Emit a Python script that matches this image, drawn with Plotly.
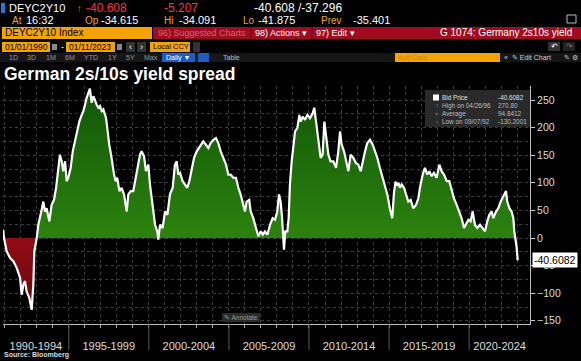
import numpy as np
import plotly.graph_objects as go

# ---------------- data ----------------
years = [
    1990.90, 1990.96, 1991.12, 1991.33, 1991.54, 1991.75, 1991.96, 1992.06, 1992.17, 1992.27,
    1992.37, 1992.54, 1992.685, 1992.79, 1992.85, 1993.00, 1993.10, 1993.21, 1993.31, 1993.41,
    1993.52, 1993.62, 1993.79, 1993.93, 1994.08, 1994.21, 1994.35, 1994.45, 1994.56, 1994.66,
    1994.77, 1994.87, 1994.97, 1995.12, 1995.25, 1995.39, 1995.54, 1995.66, 1995.81, 1995.91,
    1996.02, 1996.12, 1996.32, 1996.43, 1996.54, 1996.64, 1996.74, 1996.85, 1996.95, 1997.06,
    1997.16, 1997.33, 1997.41, 1997.53, 1997.64, 1997.74, 1997.83, 1997.93, 1998.03, 1998.16,
    1998.30, 1998.45, 1998.62, 1998.72, 1998.87, 1999.03, 1999.24, 1999.45, 1999.55, 1999.70,
    1999.82, 1999.97, 2000.07, 2000.24, 2000.39, 2000.53, 2000.59, 2000.70, 2000.86, 2001.01,
    2001.16, 2001.32, 2001.49, 2001.63, 2001.74, 2001.84, 2001.95, 2002.11, 2002.26, 2002.40,
    2002.53, 2002.67, 2002.82, 2002.99, 2003.19, 2003.40, 2003.57, 2003.72, 2003.86, 2004.03,
    2004.19, 2004.34, 2004.49, 2004.65, 2004.82, 2004.96, 2005.11, 2005.28, 2005.44, 2005.59,
    2005.73, 2005.90, 2006.00, 2006.11, 2006.27, 2006.36, 2006.52, 2006.69, 2006.84, 2006.98,
    2007.11, 2007.25, 2007.40, 2007.57, 2007.73, 2007.88, 2008.02, 2008.13, 2008.23, 2008.32,
    2008.40, 2008.44, 2008.52, 2008.65, 2008.73, 2008.81, 2008.92, 2009.02, 2009.13, 2009.27,
    2009.40, 2009.48, 2009.61, 2009.75, 2009.90, 2010.06, 2010.23, 2010.33, 2010.44, 2010.58,
    2010.73, 2010.85, 2010.96, 2011.06, 2011.21, 2011.35, 2011.52, 2011.69, 2011.83, 2011.94,
    2012.04, 2012.19, 2012.31, 2012.46, 2012.60, 2012.77, 2012.93, 2013.08, 2013.23, 2013.35,
    2013.50, 2013.64, 2013.81, 2013.98, 2014.12, 2014.27, 2014.43, 2014.60, 2014.75, 2014.89,
    2015.06, 2015.20, 2015.30, 2015.40, 2015.50, 2015.58, 2015.68, 2015.79, 2015.93, 2016.06,
    2016.20, 2016.35, 2016.51, 2016.68, 2016.83, 2016.93, 2017.10, 2017.24, 2017.39, 2017.51,
    2017.66, 2017.80, 2017.97, 2018.14, 2018.28, 2018.43, 2018.60, 2018.76, 2018.91, 2019.05,
    2019.22, 2019.39, 2019.53, 2019.68, 2019.80, 2019.95, 2020.09, 2020.22, 2020.36, 2020.51,
    2020.68, 2020.84, 2020.99, 2021.13, 2021.26, 2021.41, 2021.51, 2021.68, 2021.82, 2021.97,
    2022.09, 2022.18, 2022.30, 2022.38, 2022.51, 2022.65, 2022.76, 2022.82, 2022.88, 2022.97,
    2023.03,
]
spread = [
    15, 0, -24, -36, -42, -54, -72, -103, -84, -78,
    -97, -109, -130.2, -84, -24, 0, 24, 36, 51, 66,
    48, 54, 30, 60, 69, 91, 133, 151, 139, 121,
    139, 103, 109, 127, 157, 175, 193, 211, 223, 230,
    242, 254, 270.8, 245, 257, 248, 242, 236, 239, 230,
    233, 217, 193, 169, 151, 127, 115, 103, 109, 85,
    91, 79, 48, 79, 85, 85, 121, 151, 157, 148,
    121, 133, 97, 60, 24, 12, -3, 24, 18, 48,
    42, 79, 91, 133, 139, 115, 118, 103, 97, 91,
    103, 127, 145, 157, 166, 175, 169, 163, 172, 178,
    181, 172, 157, 145, 133, 115, 115, 109, 109, 91,
    79, 60, 48, 66, 69, 48, 36, 18, 3, 12,
    6, 12, 6, 24, 36, 33, 48, 79, 66, 36,
    6, -21, 12, 12, 36, 97, 139, 169, 193, 199,
    223, 211, 220, 214, 223, 217, 226, 236, 211, 187,
    145, 151, 211, 187, 151, 139, 139, 127, 157, 193,
    169, 157, 139, 121, 151, 145, 136, 133, 121, 139,
    157, 172, 178, 169, 157, 145, 127, 109, 97, 79,
    52, 36, 80, 102, 97, 100, 91, 97, 91, 79,
    66, 69, 54, 60, 72, 91, 115, 127, 115, 121,
    112, 118, 109, 133, 121, 115, 103, 103, 85, 72,
    60, 48, 36, 18, 24, 33, 30, 48, 24, 18,
    24, 18, 12, 30, 42, 48, 36, 48, 54, 66,
    72, 78, 85, 66, 54, 48, 36, 12, 0, -18,
    -40.6082,
]
period_labels = ["1990-1994", "1995-1999", "2000-2004", "2005-2009",
                 "2010-2014", "2015-2019", "2020-2024"]
period_starts = [1990, 1995, 2000, 2005, 2010, 2015, 2020]
period_len = 5
stat_labels = ["Bid Price", "High on 04/26/96", "Average", "Low on 09/07/92"]
stat_values = ["-40.6082", "270.80", "94.8412", "-130.2001"]
x_range = [1990.895, 2023.80]
y_range = [-155.8, 275.4]

# ---------------- geometry helpers ----------------
W, H = 581, 361
L, R, T, B = 3, 51, 86, 37
PW, PH = W - L - R, H - T - B


def px(x):
    return (x - L) / PW


def py(y):
    return (H - B - y) / PH


FONT = "Liberation Sans"
ORANGE = "#f5a300"
AMBER_TXT = "#f0a030"
REDBAR = "#a00b20"

v = np.array(spread, dtype=float)
pos = np.clip(v, 0, None)
neg = np.clip(v, None, 0)

fig = go.Figure()
fig.add_trace(go.Scatter(
    x=years, y=pos, mode="none", fill="tozeroy",
    fillgradient=dict(type="vertical", start=0, stop=270,
                      colorscale=[[0, "rgb(44,130,14)"], [1, "rgb(18,86,8)"]]),
    hoverinfo="skip", showlegend=False))
fig.add_trace(go.Scatter(
    x=years, y=neg, mode="none", fill="tozeroy",
    fillgradient=dict(type="vertical", start=-130, stop=0,
                      colorscale=[[0, "rgb(105,6,14)"], [1, "rgb(145,12,22)"]]),
    hoverinfo="skip", showlegend=False))
fig.add_trace(go.Scatter(
    x=years, y=spread, mode="lines", line=dict(color="white", width=2.2),
    hoverinfo="skip", showlegend=False))

# x tick label positions: centre of the visible part of each 5-year block
tickvals = []
for s in period_starts:
    a = max(s, x_range[0])
    b = min(s + period_len, x_range[1])
    tickvals.append((a + b) / 2)

shapes = []
annotations = []


def rect(x0, y0, x1, y1, fill, line=None):
    shapes.append(dict(type="rect", xref="paper", yref="paper",
                       x0=px(x0), x1=px(x1), y0=py(y1), y1=py(y0),
                       fillcolor=fill, line=dict(width=0 if line is None else 1,
                                                 color=line or fill),
                       layer="above"))


def text(x, y, s, size=11, color="white", anchor="left", bold=False, family=FONT):
    annotations.append(dict(xref="paper", yref="paper", x=px(x), y=py(y),
                            text=f"<b>{s}</b>" if bold else s, showarrow=False,
                            xanchor=anchor, yanchor="middle", borderpad=0,
                            font=dict(size=size, color=color, family=family)))


# separators under the x axis
for s in period_starts[1:]:
    shapes.append(dict(type="line", xref="x", yref="paper", x0=s, x1=s,
                       y0=py(350), y1=0, line=dict(color="#5a5a5a", width=1)))

# ---------- header ----------
rect(1, 3, 5, 13, "#1e7be0")
text(8, 8, "DEYC2Y10", 11, "white")
text(76, 8, "↑", 10, "#2fd04a")
text(85, 8, "-40.608", 12, "#ff3048")
text(163, 8, "-5.207", 12, "#ff3048")
text(253, 8, "-40.608 /-37.296", 12, "white")

text(11, 20, "At", 10, AMBER_TXT)
text(25, 20, "16:32", 11, "white")
text(84, 20, "Op", 10, AMBER_TXT)
text(100, 20, "-34.615", 11, "white")
text(163, 20, "Hi", 10, AMBER_TXT)
text(178, 20, "-34.091", 11, "white")
text(242, 20, "Lo", 10, AMBER_TXT)
text(257, 20, "-41.875", 11, "white")
text(320, 20, "Prev", 10, AMBER_TXT)
text(352, 20, "-35.401", 11, "white")
rect(567, 15, 576, 23, "rgba(0,0,0,0)", "#bbbbbb")

rect(2, 27, 152, 39, ORANGE)
text(4, 33, "DEYC2Y10 Index", 10, "black")
rect(153, 27, 581, 39, REDBAR)
text(157, 33, "96) Suggested Charts", 9, "#d06878")
shapes.append(dict(type="line", xref="paper", yref="paper", x0=px(251), x1=px(251),
                   y0=py(39), y1=py(27), line=dict(color="#600010", width=1)))
text(254, 33, "98) Actions ▾", 9, "white")
shapes.append(dict(type="line", xref="paper", yref="paper", x0=px(312), x1=px(312),
                   y0=py(39), y1=py(27), line=dict(color="#600010", width=1)))
text(315, 33, "97) Edit ▾", 9, "white")
text(573, 33, "G 1074: Germany 2s10s yield", 10, "white", anchor="right")

rect(2, 42, 50, 52, ORANGE)
text(4, 47, "01/01/1990", 8.5, "black")
rect(52, 44, 57, 50, "#8a8a8a")
text(60, 47, "-", 9, "white")
rect(66, 42, 115, 52, ORANGE)
text(68, 47, "01/11/2023", 8.5, "black")
rect(117, 44, 122, 50, "#8a8a8a")
rect(126, 42, 135, 52, "#333333")
text(130.5, 47, "‹", 9, "white", anchor="center")
rect(137, 42, 146, 52, "#333333")
text(141.5, 47, "›", 9, "white", anchor="center")
rect(150, 42, 190, 52, ORANGE)
text(152, 47, "Local CCY", 7.5, "black")
rect(193, 42, 200, 52, "#333333")
rect(548, 42, 560, 51, "#333333")
text(554, 46.5, "↶", 8, "white", anchor="center")
rect(563, 42, 575, 51, "#222222")
text(569, 46.5, "↷", 8, "#777777", anchor="center")

rect(0, 53, 581, 62, "#161616")
for lbl, xx in [("1D", 8), ("3D", 26), ("1M", 45), ("6M", 64), ("YTD", 83),
                ("1Y", 107), ("5Y", 125), ("Max", 143)]:
    text(xx, 57.5, lbl, 7, "#9a9a9a")
rect(162, 53, 195, 62, "#1d5fc0")
text(165, 57.5, "Daily ▼", 7, "white")
rect(198, 53, 209, 62, "#1d5fc0")
text(222, 57.5, "Table", 7, "#bbbbbb")
rect(395, 53, 500, 62, ORANGE)
text(397, 57.5, "Add Data", 7, "#c88a20")
text(503, 57.5, "«  ✎ Edit Chart", 7, "#cccccc")
text(563, 57.5, "✎ ⚙", 7, "#cccccc")

# title
text(3, 74, "German 2s/10s yield spread", 17.5, "white", bold=True)

# stats box
rect(425, 90, 530, 127, "rgba(48,48,48,0.85)")
rect(433, 94.5, 439, 100.5, "white")
row_y = [97.5, 105.5, 113.5, 121]
for i, (lab, val) in enumerate(zip(stat_labels, stat_values)):
    text(441, row_y[i], lab, 6.4, "#e0e0e0" if i == 0 else "#bdbdbd")
    text(497, row_y[i], val, 6.4, "#e0e0e0" if i == 0 else "#bdbdbd")
    if i > 0:
        text(434, row_y[i], ["⊤", "=", "⊥"][i - 1], 5, "#888888")

# annotate button
rect(222, 313, 260, 322, "#2b2b2b")
text(241, 317.5, "✎ Annotate", 6.5, "#9a9a9a", anchor="center")

# source
text(3, 355, "Source: Bloomberg", 7, "#dddddd", bold=True)

# last value tag
annotations.append(dict(xref="paper", yref="y", x=px(532), y=spread[-1],
                        text=stat_values[0], showarrow=False, xanchor="left",
                        yanchor="middle", bgcolor="white", borderpad=1,
                        font=dict(size=10.5, color="black", family=FONT)))

fig.update_layout(
    width=W, height=H,
    margin=dict(l=L, r=R, t=T, b=B),
    paper_bgcolor="black", plot_bgcolor="black",
    shapes=shapes, annotations=annotations,
    showlegend=False, hovermode=False,
    xaxis=dict(range=x_range, tickmode="array", tickvals=tickvals, ticktext=period_labels,
               ticks="", showgrid=False, zeroline=False, showline=True,
               linecolor="#bbbbbb", linewidth=1,
               tickfont=dict(size=11, color="#dddddd", family=FONT),
               ticklabelstandoff=12,
               minor=dict(tickmode="linear", tick0=1991, dtick=1, ticks="outside",
                          ticklen=3, tickcolor="#aaaaaa", showgrid=True,
                          gridcolor="#3c3c3c", griddash="dot", gridwidth=1)),
    yaxis=dict(range=y_range, side="right", tickmode="linear", tick0=0, dtick=50,
               ticks="outside", ticklen=4, tickcolor="#cccccc",
               showgrid=True, gridcolor="#3c3c3c", griddash="dot", zeroline=False,
               showline=True, linecolor="#bbbbbb", linewidth=1,
               tickfont=dict(size=10.5, color="#dddddd", family=FONT),
               minor=dict(tickmode="linear", tick0=0, dtick=25, showgrid=True,
                          gridcolor="#3c3c3c", griddash="dot")),
)

fig.write_html("out.html",
               config={"displayModeBar": False, "staticPlot": True},
               post_script="document.body.style.margin='0px';"
                           "document.body.style.background='black';")
